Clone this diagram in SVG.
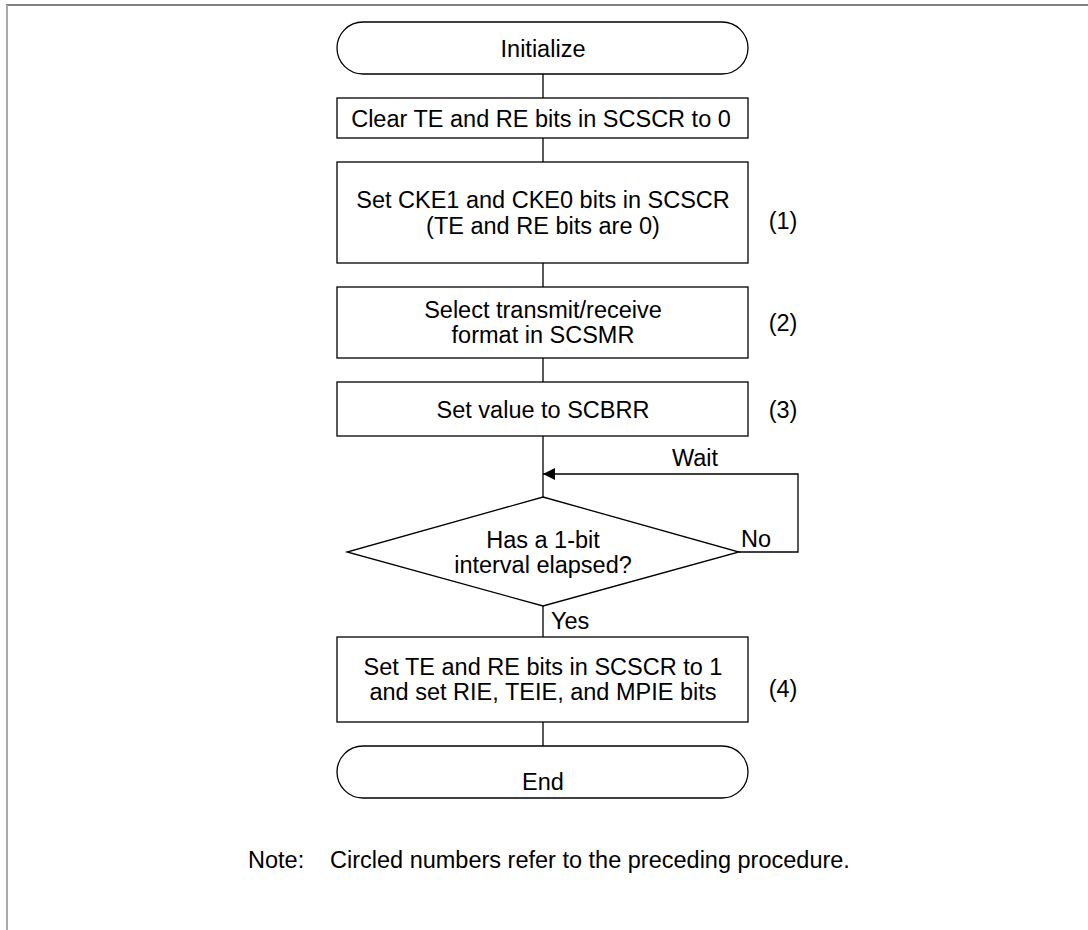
<svg xmlns="http://www.w3.org/2000/svg" width="1088" height="930" viewBox="0 0 1088 930">
<defs>
<style>
.s{fill:#fff;stroke:#000;stroke-width:1.3}
.c{fill:none;stroke:#000;stroke-width:1.3}
text{font-family:"Liberation Sans",Arial,sans-serif;font-size:23.5px;fill:#000}
.m{text-anchor:middle}
</style>
<marker id="ah" viewBox="0 0 10 10" refX="10" refY="5" markerWidth="12" markerHeight="12" markerUnits="userSpaceOnUse" orient="auto">
<path d="M0,0 L10,5 L0,10 z" fill="#000"/>
</marker>
</defs>
<rect width="1088" height="930" fill="#fff"/>
<line x1="6" y1="5" x2="1088" y2="5" stroke="#555" stroke-width="1.5"/>
<line x1="7" y1="5" x2="7" y2="930" stroke="#aaa" stroke-width="2"/>
<g id="connectors">
<line class="c" x1="543" y1="74" x2="543" y2="98"/>
<line class="c" x1="543" y1="138" x2="543" y2="162"/>
<line class="c" x1="543" y1="263" x2="543" y2="287"/>
<line class="c" x1="543" y1="358" x2="543" y2="382"/>
<line class="c" x1="543" y1="436" x2="543" y2="497"/>
<polyline class="c" points="739,552 798,552 798,474 543,474" marker-end="url(#ah)"/>
<line class="c" x1="543" y1="606" x2="543" y2="637"/>
<line class="c" x1="543" y1="722" x2="543" y2="746"/>
<text x="695" y="466" class="m">Wait</text>
<text x="741" y="547">No</text>
<text x="551" y="629">Yes</text>
</g>
<g id="n-init">
<rect class="s" x="337" y="22" width="411" height="52" rx="26"/>
<text x="543" y="57" class="m">Initialize</text>
</g>
<g id="n-clear">
<rect class="s" x="337" y="98" width="411" height="40"/>
<text x="541" y="127" class="m">Clear TE and RE bits in SCSCR to 0</text>
</g>
<g id="n-cke">
<rect class="s" x="337" y="162" width="411" height="101"/>
<text x="543" y="208" class="m">Set CKE1 and CKE0 bits in SCSCR</text>
<text x="543" y="234" class="m">(TE and RE bits are 0)</text>
<text x="783" y="229" class="m">(1)</text>
</g>
<g id="n-fmt">
<rect class="s" x="337" y="287" width="411" height="71"/>
<text x="543" y="318" class="m">Select transmit/receive</text>
<text x="543" y="343" class="m">format in SCSMR</text>
<text x="783" y="331" class="m">(2)</text>
</g>
<g id="n-brr">
<rect class="s" x="337" y="382" width="411" height="54"/>
<text x="543" y="418" class="m">Set value to SCBRR</text>
<text x="783" y="418" class="m">(3)</text>
</g>
<g id="n-dec">
<polygon class="s" points="543,497 739,552 543,606 347,552"/>
<text x="543" y="548" class="m">Has a 1-bit</text>
<text x="543" y="573" class="m">interval elapsed?</text>
</g>
<g id="n-set">
<rect class="s" x="337" y="637" width="411" height="85"/>
<text x="543" y="675" class="m">Set TE and RE bits in SCSCR to 1</text>
<text x="543" y="700" class="m">and set RIE, TEIE, and MPIE bits</text>
<text x="783" y="697" class="m">(4)</text>
</g>
<g id="n-end">
<rect class="s" x="337" y="746" width="411" height="52" rx="26"/>
<text x="543" y="790" class="m">End</text>
</g>
<text x="248" y="868">Note:</text>
<text x="330" y="868">Circled numbers refer to the preceding procedure.</text>
</svg>
